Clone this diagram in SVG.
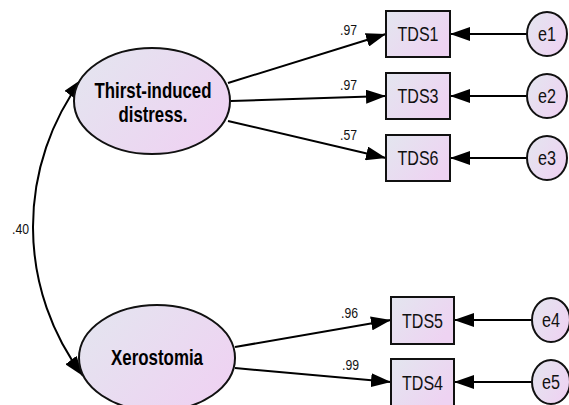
<svg xmlns="http://www.w3.org/2000/svg" width="569" height="405" viewBox="0 0 569 405">
<defs>
<linearGradient id="g" x1="0" y1="0" x2="1" y2="0.6">
<stop offset="0" stop-color="#e3e6ef"/>
<stop offset="1" stop-color="#eed3f2"/>
</linearGradient>
<marker id="ah" viewBox="0 0 20 14" markerWidth="20" markerHeight="14" markerUnits="userSpaceOnUse" refX="20" refY="7" orient="auto-start-reverse">
<path d="M0,0 L20,7 L0,14 Z" fill="#000"/>
</marker>
<style>
.n{fill:url(#g);stroke:#111;stroke-width:2}
.c{fill:none;stroke:#000;stroke-width:2;marker-end:url(#ah)}
.lat{font-family:"Liberation Sans",Arial,sans-serif;font-weight:bold;font-size:22px;fill:#000;text-anchor:middle}
.obs{font-family:"Liberation Sans",Arial,sans-serif;font-size:20px;fill:#111;text-anchor:middle}
.lbl{font-family:"Liberation Sans",Arial,sans-serif;font-size:15px;fill:#111;text-anchor:end}
</style>
</defs>
<rect width="569" height="405" fill="#fff"/>
<g id="connectors">
<path class="c" d="M228,83 L386,34"/>
<path class="c" d="M231,101 L386,96"/>
<path class="c" d="M228,121 L386,158"/>
<path class="c" d="M235,347 L391,320"/>
<path class="c" d="M235,368 L391,382"/>
<path class="c" d="M527,34 L450,34"/>
<path class="c" d="M527,96 L450,96"/>
<path class="c" d="M527,158 L450,158"/>
<path class="c" d="M532,320 L454,320"/>
<path class="c" d="M532,382 L454,382"/>
<path class="c" style="marker-start:url(#ah)" d="M82,79 A247.5,247.5 0 0 0 83,376"/>
<text class="lbl" x="357" y="35" textLength="17" lengthAdjust="spacingAndGlyphs">.97</text>
<text class="lbl" x="357" y="90" textLength="17" lengthAdjust="spacingAndGlyphs">.97</text>
<text class="lbl" x="357" y="140" textLength="17" lengthAdjust="spacingAndGlyphs">.57</text>
<text class="lbl" x="358" y="318" textLength="17" lengthAdjust="spacingAndGlyphs">.96</text>
<text class="lbl" x="359" y="370" textLength="17" lengthAdjust="spacingAndGlyphs">.99</text>
<text class="lbl" x="29" y="234" textLength="17" lengthAdjust="spacingAndGlyphs">.40</text>
</g>
<g id="thirst">
<ellipse class="n" cx="152" cy="101" rx="78" ry="53"/>
<text class="lat" x="153" y="98" textLength="117" lengthAdjust="spacingAndGlyphs">Thirst-induced</text>
<text class="lat" x="153" y="122" textLength="69" lengthAdjust="spacingAndGlyphs">distress.</text>
</g>
<g id="xerostomia">
<ellipse class="n" cx="157" cy="358" rx="78" ry="53"/>
<text class="lat" x="157" y="365" textLength="92" lengthAdjust="spacingAndGlyphs">Xerostomia</text>
</g>
<g id="TDS1"><rect class="n" x="386" y="11" width="64" height="46"/><text class="obs" x="418" y="41" textLength="41" lengthAdjust="spacingAndGlyphs">TDS1</text></g>
<g id="TDS3"><rect class="n" x="386" y="73" width="64" height="46"/><text class="obs" x="418" y="103" textLength="41" lengthAdjust="spacingAndGlyphs">TDS3</text></g>
<g id="TDS6"><rect class="n" x="386" y="135" width="64" height="46"/><text class="obs" x="418" y="165" textLength="41" lengthAdjust="spacingAndGlyphs">TDS6</text></g>
<g id="TDS5"><rect class="n" x="391" y="297" width="63" height="47"/><text class="obs" x="422.5" y="328" textLength="41" lengthAdjust="spacingAndGlyphs">TDS5</text></g>
<g id="TDS4"><rect class="n" x="391" y="359" width="63" height="47"/><text class="obs" x="422.5" y="390" textLength="41" lengthAdjust="spacingAndGlyphs">TDS4</text></g>
<g id="e1"><ellipse class="n" cx="547" cy="34" rx="20" ry="22"/><text class="obs" x="547" y="41" textLength="18" lengthAdjust="spacingAndGlyphs">e1</text></g>
<g id="e2"><ellipse class="n" cx="547" cy="96" rx="20" ry="22"/><text class="obs" x="547" y="103" textLength="18" lengthAdjust="spacingAndGlyphs">e2</text></g>
<g id="e3"><ellipse class="n" cx="547" cy="158" rx="20" ry="22"/><text class="obs" x="547" y="165" textLength="18" lengthAdjust="spacingAndGlyphs">e3</text></g>
<g id="e4"><ellipse class="n" cx="551" cy="320" rx="19" ry="22"/><text class="obs" x="551" y="327" textLength="18" lengthAdjust="spacingAndGlyphs">e4</text></g>
<g id="e5"><ellipse class="n" cx="551" cy="382" rx="19" ry="22"/><text class="obs" x="551" y="389" textLength="18" lengthAdjust="spacingAndGlyphs">e5</text></g>
</svg>
